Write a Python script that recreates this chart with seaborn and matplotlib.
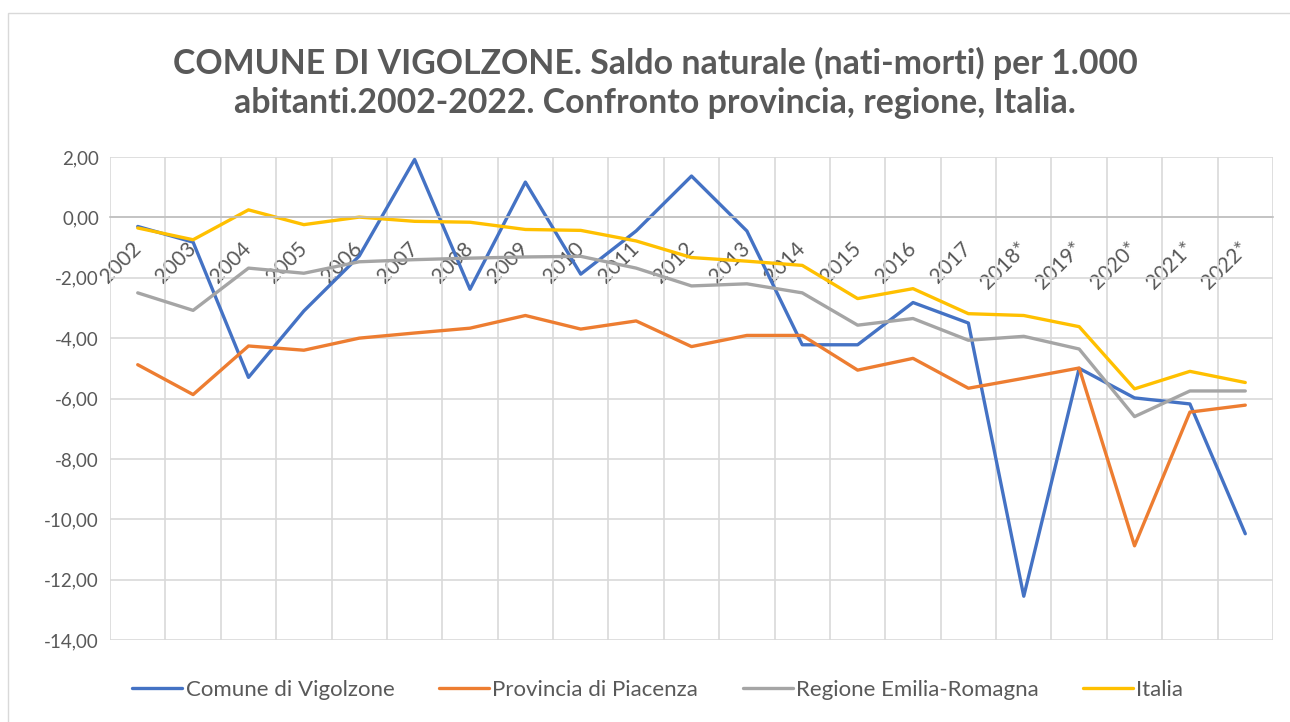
import numpy as np
import pandas as pd
import seaborn as sns
import matplotlib.pyplot as plt
from matplotlib.ticker import FuncFormatter, MultipleLocator, FixedLocator
from matplotlib.patches import Rectangle

anni = ['2002', '2003', '2004', '2005', '2006', '2007', '2008', '2009', '2010', '2011',
        '2012', '2013', '2014', '2015', '2016', '2017', '2018*', '2019*', '2020*', '2021*', '2022*']
comune = [-0.30, -0.82, -5.30, -3.10, -1.28, 1.92, -2.38, 1.17, -1.88, -0.45, 1.37,
          -0.45, -4.22, -4.22, -2.82, -3.50, -12.55, -5.00, -5.98, -6.18, -10.48]
provincia = [-4.88, -5.87, -4.26, -4.40, -4.00, -3.83, -3.67, -3.25, -3.70, -3.43, -4.28,
             -3.91, -3.91, -5.06, -4.67, -5.66, -5.33, -4.99, -10.88, -6.45, -6.22]
regione = [-2.50, -3.08, -1.68, -1.85, -1.47, -1.40, -1.35, -1.31, -1.29, -1.68, -2.27,
           -2.20, -2.50, -3.57, -3.35, -4.07, -3.94, -4.36, -6.60, -5.75, -5.75]
italia = [-0.35, -0.74, 0.25, -0.24, 0.01, -0.13, -0.16, -0.40, -0.43, -0.78, -1.33,
          -1.45, -1.59, -2.69, -2.36, -3.19, -3.25, -3.62, -5.68, -5.10, -5.47]

serie = ['Comune di Vigolzone', 'Provincia di Piacenza', 'Regione Emilia-Romagna', 'Italia']
colori = ['#4472C4', '#ED7D31', '#A5A5A5', '#FFC000']

df = pd.DataFrame({
    'x': list(range(len(anni))) * 4,
    'valore': comune + provincia + regione + italia,
    'serie': [s for s in serie for _ in anni],
})

sns.set_style('white')
plt.rcParams['font.family'] = ['Lato', 'DejaVu Sans']
testo = '#595959'

fig = plt.figure(figsize=(12.9, 7.22), dpi=100)
ax = fig.add_axes([0.0853, 0.1136, 0.9015, 0.6689])

sns.lineplot(data=df, x='x', y='valore', hue='serie', hue_order=serie, palette=colori,
             linewidth=2.4, sort=False, estimator=None, ax=ax, legend=True)

# asse x che incrocia a 0, come in Excel
ax.spines['bottom'].set_position(('data', 0))
ax.spines['bottom'].set_color('#bfbfbf')
ax.spines['bottom'].set_linewidth(1.2)
for s in ['top', 'right', 'left']:
    ax.spines[s].set_visible(False)

ax.set_xlim(-0.5, len(anni) - 0.5)
ax.set_ylim(-14, 2)
ax.yaxis.set_major_locator(MultipleLocator(2))
ax.yaxis.set_major_formatter(FuncFormatter(lambda v, p: f'{v:.2f}'.replace('.', ',')))
ax.grid(axis='y', color='#d9d9d9', linewidth=1.2)
ax.set_xticks(range(len(anni)))
ax.set_xticklabels(anni, rotation=45, ha='right', va='center', rotation_mode='anchor')
ax.xaxis.set_minor_locator(FixedLocator(np.arange(-0.5, len(anni), 1)))
ax.grid(axis='x', which='minor', color='#d9d9d9', linewidth=1.2)
ax.grid(axis='x', which='major', visible=False)
ax.set_axisbelow(True)

ax.tick_params(axis='x', which='both', length=0, pad=20, labelsize=15, labelcolor=testo)
ax.tick_params(axis='y', length=0, pad=8, labelsize=13.5, labelcolor=testo)
ax.set_xlabel('')
ax.set_ylabel('')

ax.get_legend().remove()
handles, labels = ax.get_legend_handles_labels()
fig.legend(handles, labels, loc='center', bbox_to_anchor=(0.51, 0.044), ncol=4,
           frameon=False, fontsize=16, handlelength=2.25, handletextpad=0.15,
           columnspacing=2.0, labelcolor=testo)

fig.text(0.508, 0.885, 'COMUNE DI VIGOLZONE. Saldo naturale (nati-morti) per 1.000\n'
         'abitanti.2002-2022. Confronto provincia, regione, Italia.',
         ha='center', va='center', fontsize=24.4, fontweight='bold', color=testo, linespacing=1.25)

fig.patches.append(Rectangle((0.006, -0.01), 1.0, 0.992, transform=fig.transFigure,
                             fill=False, edgecolor='#d9d9d9', linewidth=1))

fig.savefig('out.png', dpi=100)
